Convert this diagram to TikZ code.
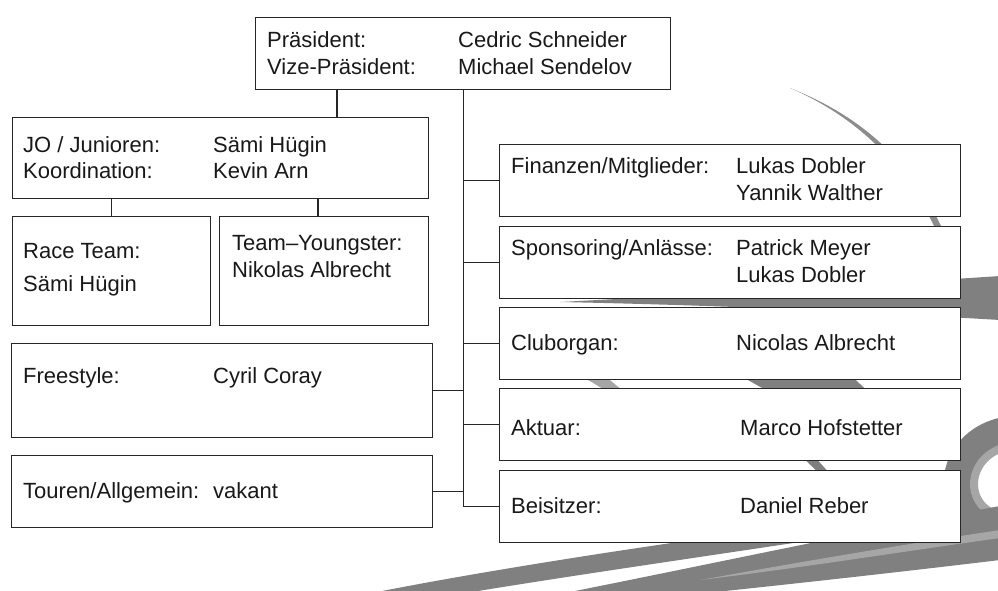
\documentclass[tikz,border=0pt]{standalone}
\usepackage{fontspec}
\setmainfont{Liberation Sans}

\begin{document}
\begin{tikzpicture}[x=1pt, y=-1pt,
    every node/.style={font=\fontsize{22}{26}\selectfont, text=black!90},
    box/.style={draw=black!85, fill=white, line width=1.2pt, anchor=north west, inner sep=0pt},
    txt/.style={anchor=base west, inner sep=0pt},
    link/.style={draw=black!85, line width=1.2pt},
    band/.style={fill=black!50, draw=none},
    bandlight/.style={fill=black!35, draw=none}]
    \useasboundingbox (0,0) rectangle (998,591);

    % Background swoosh
    \begin{scope}
        \clip (0,0) rectangle (998,591);
        \fill[black!45] (790,88) .. controls (850,112) and (905,150) .. (942,228) -- (935,228) .. controls (902,158) and (850,114) .. (790,88) -- cycle;
        \fill[band] (560,302) .. controls (750,292) and (880,284) .. (1000,276) -- (1000,320) .. controls (880,313) and (750,306) .. (560,302) -- cycle;
        \fill[band] (730,370) -- (845,370) -- (875,398) -- (780,398) -- cycle;
        \fill[bandlight] (575,372) -- (600,372) -- (628,395) -- (613,395) -- cycle;
        \fill[band] (800,455) -- (813,455) -- (832,476) -- (822,476) -- cycle;
        \draw[line width=28pt, black!50] (1010,430) .. controls (940,440) and (940,530) .. (1010,531);
        \draw[line width=8pt, black!35] (1010,446) .. controls (962,455) and (962,515) .. (1010,517);
        \fill[band] (382,591) .. controls (480,572) and (600,553) .. (720,536) -- (800,542) .. controls (680,560) and (570,576) .. (478,591) -- cycle;
        \fill[band] (575,591) .. controls (720,562) and (860,532) .. (1000,506) -- (1000,560) .. controls (900,572) and (810,582) .. (725,591) -- cycle;
        \fill[bandlight] (700,580) .. controls (800,562) and (900,545) .. (1000,530) -- (1000,538) .. controls (900,552) and (800,568) .. (700,580) -- cycle;
    \end{scope}

    % Boxes
    \node[box, minimum width=415, minimum height=72] (praes) at (255,17) {};
    \node[box, minimum width=416, minimum height=81] (jo) at (12,117) {};
    \node[box, minimum width=198, minimum height=109] (race) at (12,216) {};
    \node[box, minimum width=209, minimum height=109] (youngster) at (219,216) {};
    \node[box, minimum width=421, minimum height=94] (freestyle) at (11,343) {};
    \node[box, minimum width=421, minimum height=72] (touren) at (11,455) {};
    \foreach \nm/\top in {finanzen/144, sponsoring/226, cluborgan/307, aktuar/388, beisitzer/470}
        \node[box, minimum width=461, minimum height=72] (\nm) at (499,\top) {};

    % Connectors
    \coordinate (jolink) at (337,0);
    \coordinate (ylink) at (318,0);
    \draw[link] (praes.south -| jolink) -- (jo.north -| jolink);
    \draw[link] (jo.south -| race.north) -- (race.north);
    \draw[link] (jo.south -| ylink) -- (youngster.north -| ylink);
    \draw[link] (praes.south) -- (praes.south |- beisitzer.west);
    \foreach \nm in {finanzen, sponsoring, cluborgan, aktuar, beisitzer}
        \draw[link] (praes.south |- \nm.west) -- (\nm.west);
    \foreach \nm in {freestyle, touren}
        \draw[link] (\nm.east) -- (\nm.east -| praes.south);

    % Texts
    \foreach \x/\y/\t [count=\i] in {
        267/48/Präsident:, 458/48/Cedric Schneider, 267/75/Vize-Präsident:, 458/75/Michael Sendelov,
        23/152/{JO / Junioren:}, 213/152/Sämi Hügin, 23/178/Koordination:, 213/178/Kevin Arn,
        23/258/Race Team:, 23/291/Sämi Hügin,
        232/250/Team–Youngster:, 232/277/Nikolas Albrecht,
        23/383/Freestyle:, 213/383/Cyril Coray,
        23/498/{Touren/Allgemein:}, 213/498/vakant,
        511/173/{Finanzen/Mitglieder:}, 736/173/Lukas Dobler, 736/200/Yannik Walther,
        511/255/{Sponsoring/Anlässe:}, 736/255/Patrick Meyer, 736/282/Lukas Dobler,
        511/350/Cluborgan:, 736/350/Nicolas Albrecht,
        511/435/Aktuar:, 740/435/Marco Hofstetter,
        511/513/Beisitzer:, 740/513/Daniel Reber}
        \node[txt] (t\i) at (\x,\y) {\t};
\end{tikzpicture}
\end{document}
